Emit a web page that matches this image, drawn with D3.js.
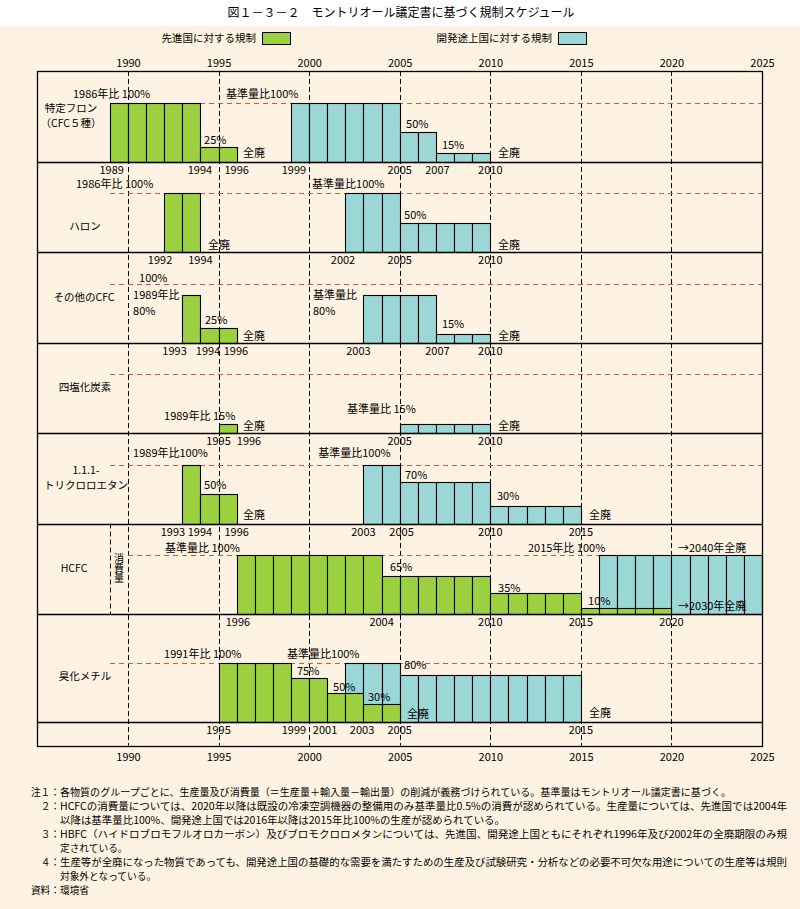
<!DOCTYPE html>
<html><head><meta charset="utf-8">
<script src="https://cdn.jsdelivr.net/npm/d3@7"></script>
<style>
body{margin:0;background:#fff;}
text{font-family:"Noto Sans CJK JP","Noto Sans",sans-serif;fill:#000;}
</style>
</head><body>
<svg id="chart" width="800" height="909"></svg>
<script>
// ---------------- DATA ----------------
const yearTicks = [1990, 1995, 2000, 2005, 2010, 2015, 2020, 2025];
const substances = [
  ["特定フロン", "（CFC５種）"],
  ["ハロン"],
  ["その他のCFC"],
  ["四塩化炭素"],
  ["1.1.1-", "トリクロロエタン"],
  ["HCFC"],
  ["臭化メチル"]
];
// phases: [startYear, endYear, percent of base]
const developedPhases = [
  [[1989, 1994, 100], [1994, 1996, 25]],
  [[1992, 1994, 100]],
  [[1993, 1994, 80], [1994, 1996, 25]],
  [[1995, 1996, 15]],
  [[1993, 1994, 100], [1994, 1996, 50]],
  [[1996, 2004, 100], [2004, 2010, 65], [2010, 2015, 35], [2015, 2020, 10]],
  [[1995, 1999, 100], [1999, 2001, 75], [2001, 2003, 50], [2003, 2005, 30]]
];
const developingPhases = [
  [[1999, 2005, 100], [2005, 2007, 50], [2007, 2010, 15]],
  [[2002, 2005, 100], [2005, 2010, 50]],
  [[2003, 2007, 80], [2007, 2010, 15]],
  [[2005, 2010, 15]],
  [[2003, 2005, 100], [2005, 2010, 70], [2010, 2015, 30]],
  [[2016, 2025, 100]],
  [[2002, 2005, 100], [2005, 2015, 80]]
];
// annotations: [row, year (text start), percent level, text]
const annotations = [
  [0, 1986.96, 108, "1986年比 100%"], [0, 1995.41, 108, "基準量比100%"],
  [0, 1994.2, 29, "25%"], [0, 1996.35, 7, "全廃"],
  [0, 2005.35, 56, "50%"], [0, 2007.33, 22, "15%"], [0, 2010.43, 7, "全廃"],
  [1, 1987.13, 108, "1986年比 100%"], [1, 2000.16, 108, "基準量比100%"],
  [1, 2005.24, 56, "50%"], [1, 1994.42, 5, "全廃"], [1, 2010.43, 5, "全廃"],
  [2, 1990.61, 103, "100%"], [2, 1990.28, 73, "1989年比"], [2, 1990.28, 47, "80%"],
  [2, 1994.25, 32, "25%"], [2, 1996.35, 4, "全廃"],
  [2, 2000.21, 73, "基準量比"], [2, 2000.21, 47, "80%"],
  [2, 2007.33, 25, "15%"], [2, 2010.43, 4, "全廃"],
  [3, 1991.99, 22, "1989年比 15%"], [3, 1996.35, 5, "全廃"],
  [3, 2002.09, 34, "基準量比 15%"], [3, 2010.43, 5, "全廃"],
  [4, 1990.28, 112, "1989年比100%"], [4, 2000.5, 112, "基準量比100%"],
  [4, 1994.2, 58, "50%"], [4, 1996.35, 7, "全廃"],
  [4, 2005.29, 76, "70%"], [4, 2010.37, 39, "30%"], [4, 2015.45, 7, "全廃"],
  [5, 1992.04, 105, "基準量比 100%"], [5, 2004.46, 73, "65%"],
  [5, 2010.43, 37, "35%"], [5, 2015.4, 15, "10%"],
  [5, 2012.08, 105, "2015年比 100%"], [5, 2020.36, 105, "→2040年全廃"],
  [5, 2020.36, 7, "→2030年全廃"],
  [6, 1991.99, 108, "1991年比 100%"], [6, 1998.78, 108, "基準量比100%"],
  [6, 1999.33, 80, "75%"], [6, 2001.32, 53, "50%"], [6, 2003.25, 36, "30%"],
  [6, 2005.24, 90, "80%"], [6, 2005.4, 7, "全廃"], [6, 2015.45, 8, "全廃"]
];
// year labels under each row: [row, label, centre position (year)]
const yearLabels = [
  [0, "1989", 1989.1], [0, "1994", 1993.97], [0, "1996", 1996], [0, "1999", 1999.16],
  [0, "2005", 2005], [0, "2007", 2007.08], [0, "2010", 2010],
  [1, "1992", 1991.77], [1, "1994", 1994], [1, "2002", 2001.87], [1, "2005", 2005], [1, "2010", 2010],
  [2, "1993", 1992.57], [2, "1994", 1994.42], [2, "1996", 1995.96], [2, "2003", 2002.72],
  [2, "2007", 2007.08], [2, "2010", 2010],
  [3, "1995", 1995], [3, "1996", 1996.68], [3, "2005", 2005], [3, "2010", 2010],
  [4, "1993", 1992.48], [4, "1994", 1993.97], [4, "1996", 1996], [4, "2003", 2003],
  [4, "2005", 2005.1], [4, "2010", 2010], [4, "2015", 2015],
  [5, "1996", 1996.07], [5, "2004", 2004], [5, "2010", 2010], [5, "2015", 2015], [5, "2020", 2020],
  [6, "1995", 1995], [6, "1999", 1999.16], [6, "2001", 2000.88], [6, "2003", 2002.92],
  [6, "2005", 2005], [6, "2015", 2015]
];
const title = "図１－３－２　モントリオール議定書に基づく規制スケジュール";
const legendLabels = ["先進国に対する規制", "開発途上国に対する規制"];
const consumptionLabel = "消費量";
const notes = [
  ["注１：", "各物質のグループごとに、生産量及び消費量（＝生産量＋輸入量－輸出量）の削減が義務づけられている。基準量はモントリオール議定書に基づく。"],
  ["２：", "HCFCの消費量については、2020年以降は既設の冷凍空調機器の整備用のみ基準量比0.5%の消費が認められている。生産量については、先進国では2004年"],
  ["", "以降は基準量比100%、開発途上国では2016年以降は2015年比100%の生産が認められている。"],
  ["３：", "HBFC（ハイドロブロモフルオロカーボン）及びブロモクロロメタンについては、先進国、開発途上国ともにそれぞれ1996年及び2002年の全廃期限のみ規"],
  ["", "定されている。"],
  ["４：", "生産等が全廃になった物質であっても、開発途上国の基礎的な需要を満たすための生産及び試験研究・分析などの必要不可欠な用途についての生産等は規則"],
  ["", "対象外となっている。"],
  ["資料：", "環境省"]
];

// ---------------- LAYOUT ----------------
const W = 800, H = 909;
const C = {bg: "#fef3e2", green: "#9bd13f", teal: "#9ad7d6", red: "#e0552f"};
const boxL = 37, boxR = 762, boxT = 71, boxB = 745.5;
const baselines = [161.5, 252, 342.5, 433, 523.5, 614, 722];
const labelX = [71, 85, 84, 85, 86, 74, 85];
const noteWidths = [671, 727, 445, 727, null, 727, null, null];

const svg = d3.select("#chart");
svg.append("rect").attr("x", 0).attr("y", 26).attr("width", W).attr("height", H - 26).attr("fill", C.bg);

const x = d3.scaleLinear().domain([1990, 2025]).range([128, 762]);
const h = d3.scaleLinear().domain([0, 100]).range([0, 59]);

// title
svg.append("text").attr("x", 401).attr("y", 17).attr("text-anchor", "middle")
  .style("font-size", "12px").text(title);

// legend
const legend = svg.append("g");
[[256, 262, C.green], [552, 558, C.teal]].forEach((p, i) => {
  legend.append("text").attr("x", p[0]).attr("y", 42).attr("text-anchor", "end")
    .style("font-size", "10.5px").text(legendLabels[i]);
  legend.append("rect").attr("x", p[1] + 0.5).attr("y", 32.5).attr("width", 28).attr("height", 12)
    .attr("fill", p[2]).attr("stroke", "#000").attr("stroke-width", 1);
});

// axes (top & bottom tick labels)
const axTop = svg.append("g").attr("transform", `translate(0,${boxT - 4})`)
  .call(d3.axisTop(x).tickValues(yearTicks).tickSize(0).tickPadding(0).tickFormat(d3.format("d")));
const axBot = svg.append("g").attr("transform", `translate(0,${boxB + 8})`)
  .call(d3.axisBottom(x).tickValues(yearTicks).tickSize(0).tickPadding(0).tickFormat(d3.format("d")));
[axTop, axBot].forEach(a => {
  a.select(".domain").remove();
  a.selectAll("text").style("font-size", "11px").style("font-family", '"Noto Sans CJK JP",sans-serif').attr("fill", "#000");
});
axTop.selectAll("text").attr("dy", "0");
axBot.selectAll("text").attr("dy", "0.71em");

// vertical dashed grid lines
svg.append("g").selectAll("line").data(yearTicks.filter(d => d < 2025)).join("line")
  .attr("x1", d => Math.round(x(d)) + 0.5).attr("x2", d => Math.round(x(d)) + 0.5)
  .attr("y1", boxT).attr("y2", boxB)
  .attr("stroke", "#000").attr("stroke-width", 1).attr("stroke-dasharray", "5,3");

// HCFC consumption column separator and vertical label
svg.append("line").attr("x1", 110.5).attr("x2", 110.5).attr("y1", baselines[4]).attr("y2", baselines[5])
  .attr("stroke", "#000").attr("stroke-dasharray", "5,3");
svg.append("text").attr("x", 119).attr("y", 568).attr("text-anchor", "middle")
  .style("writing-mode", "vertical-rl").style("font-size", "10px").text(consumptionLabel);

// red dashed 100% lines
svg.append("g").selectAll("line").data(baselines).join("line")
  .attr("x1", (d, i) => i === 5 ? 128 : 110).attr("x2", boxR)
  .attr("y1", d => Math.round(d - h(100)) + 0.5).attr("y2", d => Math.round(d - h(100)) + 0.5)
  .attr("stroke", C.red).attr("stroke-width", 1.2).attr("stroke-dasharray", "5,4");

// bars: one cell per year
function cells(phases, row) {
  return phases.flatMap(([s, e, p]) => d3.range(s, e).map(y => ({row, y, p})));
}
function drawCells(phasesAll, color) {
  const data = phasesAll.flatMap((ph, r) => cells(ph, r));
  svg.append("g").selectAll("rect").data(data).join("rect")
    .attr("x", d => Math.round(x(d.y)) + 0.5)
    .attr("width", d => Math.round(x(d.y + 1)) - Math.round(x(d.y)))
    .attr("y", d => Math.round(baselines[d.row] - h(d.p)) + 0.5)
    .attr("height", d => Math.round(baselines[d.row]) - Math.round(baselines[d.row] - h(d.p)))
    .attr("fill", color).attr("stroke", "#000").attr("stroke-width", 1.1);
}
drawCells(developingPhases, C.teal);
drawCells(developedPhases, C.green);

// horizontal row separators & frame
svg.append("g").selectAll("line").data(baselines).join("line")
  .attr("x1", boxL).attr("x2", boxR)
  .attr("y1", d => Math.round(d) + 0.5).attr("y2", d => Math.round(d) + 0.5)
  .attr("stroke", "#000").attr("stroke-width", 1.3);
svg.append("rect").attr("x", boxL + 0.5).attr("y", boxT + 0.5)
  .attr("width", boxR - boxL).attr("height", Math.round(boxB - boxT))
  .attr("fill", "none").attr("stroke", "#000").attr("stroke-width", 1.3);

// annotations
svg.append("g").selectAll("text").data(annotations).join("text")
  .attr("x", d => x(d[1])).attr("y", d => baselines[d[0]] - h(d[2]))
  .style("font-size", "11px").text(d => d[3]);

// year labels
svg.append("g").selectAll("text").data(yearLabels).join("text")
  .attr("x", d => x(d[2])).attr("y", d => baselines[d[0]] + 12)
  .attr("text-anchor", "middle").style("font-size", "11px").text(d => d[1]);

// row labels
substances.forEach((lines, i) => {
  const yc = baselines[i] - (i === 1 ? 26 : 46) - (lines.length - 1) * 7.5;
  lines.forEach((t, j) => {
    svg.append("text").attr("x", labelX[i]).attr("y", yc + j * 15 + 4)
      .attr("text-anchor", "middle").style("font-size", "10.5px").text(t);
  });
});

// notes
const ng = svg.append("g");
notes.forEach((n, i) => {
  const yy = 796 + i * 14;
  if (n[0]) ng.append("text").attr("x", 60).attr("y", yy).attr("text-anchor", "end")
    .style("font-size", "9.7px").text(n[0]);
  const t = ng.append("text").attr("x", 60).attr("y", yy).style("font-size", "9.7px").text(n[1]);
  if (noteWidths[i]) t.attr("textLength", noteWidths[i]).attr("lengthAdjust", "spacingAndGlyphs");
});
</script>
</body></html>
